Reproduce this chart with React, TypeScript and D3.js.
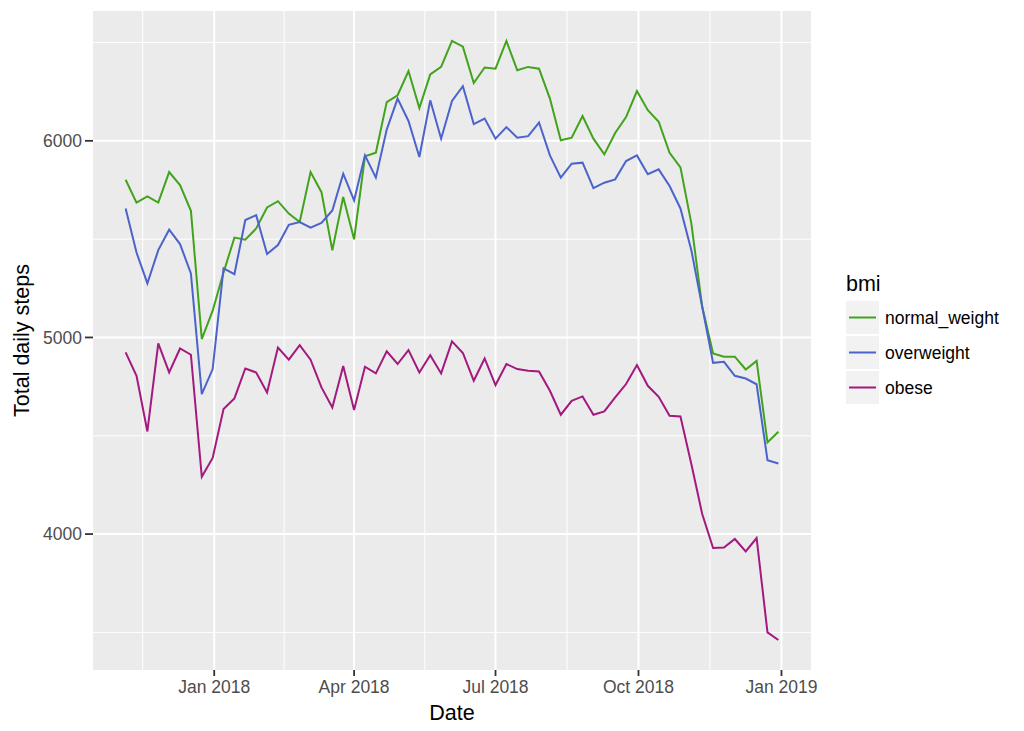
import * as d3 from "d3";

// weekly dates, Sundays, 5 Nov 2017 .. 30 Dec 2018
const weeks = d3.utcDay.range(new Date(Date.UTC(2017, 10, 5)), new Date(Date.UTC(2018, 11, 31)), 7);

const normalWeight = [
  5802, 5686, 5717, 5686, 5841, 5775, 5644, 4992, 5136, 5330, 5508, 5497, 5554, 5661, 5693, 5630,
  5587, 5841, 5739, 5443, 5714, 5499, 5921, 5940, 6197, 6232, 6355, 6167, 6338, 6376, 6508, 6479,
  6294, 6373, 6367, 6508, 6359, 6376, 6367, 6215, 6003, 6016, 6126, 6011, 5931, 6040, 6121, 6253,
  6156, 6097, 5939, 5865, 5580, 5156, 4919, 4902, 4902, 4837, 4881, 4466, 4520,
];
const overweight = [
  5656, 5432, 5275, 5444, 5548, 5475, 5326, 4712, 4839, 5351, 5322, 5597, 5622, 5424, 5470, 5573,
  5587, 5558, 5582, 5646, 5833, 5697, 5926, 5813, 6057, 6215, 6101, 5918, 6206, 6011, 6203, 6278,
  6085, 6113, 6011, 6070, 6016, 6024, 6093, 5926, 5813, 5884, 5889, 5760, 5787, 5804, 5897, 5926,
  5830, 5855, 5770, 5656, 5444, 5156, 4871, 4876, 4805, 4791, 4762, 4376, 4359,
];
const obese = [
  4924, 4805, 4522, 4970, 4822, 4944, 4912, 4291, 4387, 4636, 4690, 4842, 4822, 4720, 4949, 4887,
  4961, 4887, 4746, 4644, 4855, 4631, 4851, 4817, 4929, 4865, 4936, 4822, 4910, 4817, 4980, 4921,
  4780, 4893, 4758, 4865, 4839, 4831, 4827, 4729, 4607, 4678, 4700, 4607, 4624, 4695, 4763, 4860,
  4754, 4698, 4602, 4598, 4356, 4102, 3929, 3932, 3975, 3912, 3980, 3500, 3461,
];

const seriesNames = ["normal_weight", "overweight", "obese"];
const seriesValues = [normalWeight, overweight, obese];
const seriesColors = ["#41a31c", "#4b63cb", "#a3197f"];

const yTicks = [4000, 5000, 6000];
const yMinor = [3500, 4500, 5500, 6500];
const xTicks = [
  new Date(Date.UTC(2018, 0, 1)),
  new Date(Date.UTC(2018, 3, 1)),
  new Date(Date.UTC(2018, 6, 1)),
  new Date(Date.UTC(2018, 9, 1)),
  new Date(Date.UTC(2019, 0, 1)),
];
const xLabels = ["Jan 2018", "Apr 2018", "Jul 2018", "Oct 2018", "Jan 2019"];

const panel = { left: 93, right: 811, top: 11, bottom: 670 };
const font = "'Liberation Sans', Arial, Helvetica, sans-serif";

export default function App() {
  // ggplot-like 5% expansion
  const [t0, t1] = d3.extent(weeks) as [Date, Date];
  const tPad = (+t1 - +t0) * 0.05;
  const x = d3
    .scaleUtc()
    .domain([new Date(+t0 - tPad), new Date(+t1 + tPad)])
    .range([panel.left, panel.right]);

  const all = seriesValues.flat();
  const vMin = d3.min(all)!;
  const vMax = d3.max(all)!;
  const vPad = (vMax - vMin) * 0.05;
  const y = d3
    .scaleLinear()
    .domain([vMin - vPad, vMax + vPad])
    .range([panel.bottom, panel.top]);

  // minor x grid: midpoints between major breaks (plus the one before)
  const prevTick = new Date(Date.UTC(2017, 9, 1));
  const majors = [prevTick, ...xTicks];
  const xMinor = d3
    .pairs(majors)
    .map(([a, b]) => new Date((+a + +b) / 2))
    .filter((d) => x(d) > panel.left && x(d) < panel.right);

  const line = d3
    .line<number>()
    .x((_, i) => x(weeks[i]))
    .y((d) => y(d));

  const legendX = 846;
  const legendY = 301;
  const keySize = 33;

  return (
    <svg
      width={1024}
      height={731}
      style={{ position: "absolute", left: 0, top: 0, background: "#fff" }}
      fontFamily={font}
    >
      <rect
        x={panel.left}
        y={panel.top}
        width={panel.right - panel.left}
        height={panel.bottom - panel.top}
        fill="#ebebeb"
      />
      {yMinor.map((v) => (
        <line key={"ym" + v} x1={panel.left} x2={panel.right} y1={y(v)} y2={y(v)} stroke="#fff" strokeWidth={1} />
      ))}
      {xMinor.map((d, i) => (
        <line key={"xm" + i} x1={x(d)} x2={x(d)} y1={panel.top} y2={panel.bottom} stroke="#fff" strokeWidth={1} />
      ))}
      {yTicks.map((v) => (
        <line key={"yg" + v} x1={panel.left} x2={panel.right} y1={y(v)} y2={y(v)} stroke="#fff" strokeWidth={2} />
      ))}
      {xTicks.map((d, i) => (
        <line key={"xg" + i} x1={x(d)} x2={x(d)} y1={panel.top} y2={panel.bottom} stroke="#fff" strokeWidth={2} />
      ))}

      {seriesValues.map((vals, i) => (
        <path key={seriesNames[i]} d={line(vals) ?? ""} fill="none" stroke={seriesColors[i]} strokeWidth={2} />
      ))}

      {/* y axis */}
      {yTicks.map((v) => (
        <g key={"yt" + v}>
          <line x1={panel.left - 8} x2={panel.left} y1={y(v)} y2={y(v)} stroke="#333" strokeWidth={1.8} />
          <text x={panel.left - 11} y={y(v)} dy="0.35em" textAnchor="end" fontSize={17.5} fill="#4d4d4d">
            {v}
          </text>
        </g>
      ))}
      {/* x axis */}
      {xTicks.map((d, i) => (
        <g key={"xt" + i}>
          <line x1={x(d)} x2={x(d)} y1={panel.bottom} y2={panel.bottom + 6} stroke="#333" strokeWidth={1.8} />
          <text x={x(d)} y={693} textAnchor="middle" fontSize={17.5} fill="#4d4d4d">
            {xLabels[i]}
          </text>
        </g>
      ))}

      <text x={(panel.left + panel.right) / 2} y={720} textAnchor="middle" fontSize={21.5} fill="#000">
        Date
      </text>
      <text
        transform={`translate(29, ${(panel.top + panel.bottom) / 2}) rotate(-90)`}
        textAnchor="middle"
        fontSize={21.5}
        fill="#000"
      >
        Total daily steps
      </text>

      {/* legend */}
      <text x={legendX} y={291} fontSize={21.5} fill="#000">
        bmi
      </text>
      {seriesNames.map((name, i) => {
        const top = legendY + i * (keySize + 2);
        return (
          <g key={"lg" + name}>
            <rect x={legendX} y={top} width={keySize} height={keySize} fill="#f2f2f2" />
            <line
              x1={legendX + 3}
              x2={legendX + keySize - 3}
              y1={top + keySize / 2}
              y2={top + keySize / 2}
              stroke={seriesColors[i]}
              strokeWidth={2}
            />
            <text x={885} y={top + keySize / 2} dy="0.35em" fontSize={17.5} fill="#000">
              {name}
            </text>
          </g>
        );
      })}
    </svg>
  );
}
